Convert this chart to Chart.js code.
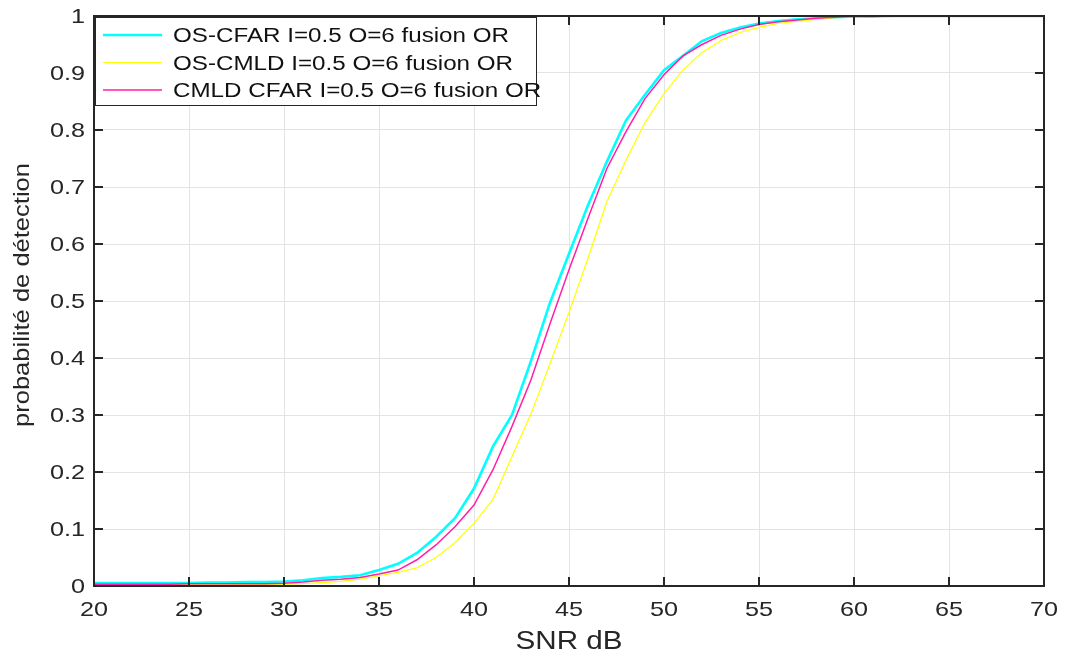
<!DOCTYPE html>
<html>
<head>
<meta charset="utf-8">
<script src="https://cdn.jsdelivr.net/npm/chart.js@4/dist/chart.umd.min.js"></script>
<style>
  html, body { margin: 0; padding: 0; background: #fff; }
  #wrap { width: 1070px; height: 656px; }
</style>
</head>
<body>
<div id="wrap"><canvas id="pd" width="1070" height="656"></canvas></div>
<script>
// SNR values (dB)
const snr = [20,21,22,23,24,25,26,27,28,29,30,31,32,33,34,35,36,37,38,39,40,41,42,43,44,45,
  46,47,48,49,50,51,52,53,54,55,56,57,58,59,60,61,62,63,64,65,66,67,68,69,70];

const osCfar = [0.005,0.005,0.005,0.005,0.005,0.005,0.006,0.006,0.007,0.007,0.008,0.010,0.014,0.016,0.019,0.028,
  0.039,0.058,0.086,0.119,0.171,0.245,0.300,0.395,0.497,0.583,0.668,0.745,0.817,0.862,0.905,0.930,0.956,0.970,
  0.980,0.987,0.991,0.994,0.996,0.998,0.999,0.999,1,1,1,1,1,1,1,1,1];

const osCmld = [0.001,0.001,0.001,0.002,0.002,0.002,0.002,0.002,0.003,0.003,0.003,0.004,0.006,0.008,0.012,0.018,
  0.024,0.032,0.050,0.076,0.110,0.152,0.227,0.302,0.390,0.480,0.575,0.675,0.747,0.813,0.864,0.905,0.936,0.957,
  0.971,0.980,0.987,0.991,0.994,0.997,0.998,0.999,0.999,1,1,1,1,1,1,1,1];

const cmldCfar = [0.003,0.003,0.003,0.003,0.003,0.004,0.004,0.004,0.004,0.004,0.005,0.007,0.010,0.012,0.015,0.021,
  0.028,0.046,0.072,0.104,0.142,0.204,0.280,0.362,0.460,0.555,0.645,0.733,0.797,0.855,0.897,0.930,0.950,0.966,
  0.977,0.985,0.990,0.993,0.996,0.998,0.999,0.999,1,1,1,1,1,1,1,1,1];

const seriesNames = ['OS-CFAR I=0.5 O=6 fusion OR', 'OS-CMLD I=0.5 O=6 fusion OR', 'CMLD CFAR I=0.5 O=6 fusion OR'];
const seriesColors = ['#00ffff', '#ffff00', '#ff1fa8'];
const seriesWidths = [2.6, 1.2, 1.5];

const xTicks = [20,25,30,35,40,45,50,55,60,65,70];
const yTicks = [0,0.1,0.2,0.3,0.4,0.5,0.6,0.7,0.8,0.9,1];
const xTitle = 'SNR dB';
const yTitle = 'probabilité de détection';

const ink = '#262626';
const fam = '"Liberation Sans", Arial, Helvetica, sans-serif';
const stretch = 1.2; // matlab text is a bit wider than Arial

function pts(vals) {
  return snr.map((s, i) => ({ x: s, y: vals[i] }));
}

// draws text stretched along its own direction
function wideText(ctx, txt, x, y, align, sx) {
  ctx.save();
  ctx.translate(x, y);
  ctx.scale(sx, 1);
  ctx.textAlign = align;
  ctx.fillText(txt, 0, 0);
  ctx.restore();
}

// MATLAB style box, inner ticks, labels and legend
const matlabFrame = {
  id: 'matlabFrame',
  afterDraw(chart) {
    const ctx = chart.ctx;
    const a = chart.chartArea;
    const xs = chart.scales.x, ys = chart.scales.y;
    ctx.save();
    ctx.strokeStyle = ink;
    ctx.lineWidth = 2;
    ctx.strokeRect(a.left, a.top, a.right - a.left, a.bottom - a.top);
    const tl = 9;
    ctx.beginPath();
    xTicks.forEach(v => {
      const px = xs.getPixelForValue(v);
      ctx.moveTo(px, a.bottom); ctx.lineTo(px, a.bottom - tl);
      ctx.moveTo(px, a.top); ctx.lineTo(px, a.top + tl);
    });
    yTicks.forEach(v => {
      const py = ys.getPixelForValue(v);
      ctx.moveTo(a.left, py); ctx.lineTo(a.left + tl, py);
      ctx.moveTo(a.right, py); ctx.lineTo(a.right - tl, py);
    });
    ctx.stroke();

    // tick labels
    ctx.fillStyle = ink;
    ctx.font = '21px ' + fam;
    ctx.textBaseline = 'middle';
    yTicks.forEach(v => {
      wideText(ctx, String(v), a.left - 9, ys.getPixelForValue(v) + 1.5, 'right', stretch);
    });
    xTicks.forEach(v => {
      wideText(ctx, String(v), xs.getPixelForValue(v), a.bottom + 24, 'center', stretch);
    });

    // axis titles
    ctx.font = '25px ' + fam;
    const tw = ctx.measureText(xTitle).width;
    wideText(ctx, xTitle, (a.left + a.right) / 2, 642, 'center', 107 / tw);
    ctx.font = '22px ' + fam;
    ctx.save();
    ctx.translate(23, 295);
    ctx.rotate(-Math.PI / 2);
    const yw = ctx.measureText(yTitle).width;
    wideText(ctx, yTitle, 0, 0, 'center', 264 / yw);
    ctx.restore();

    // legend
    const lx = 95, ly = 17, lw = 441, lh = 88;
    ctx.fillStyle = '#fff';
    ctx.fillRect(lx, ly, lw, lh);
    ctx.lineWidth = 1;
    ctx.strokeStyle = ink;
    ctx.strokeRect(lx + 0.5, ly + 0.5, lw, lh);
    ctx.font = '20px ' + fam;
    ctx.textBaseline = 'middle';
    const lsx = 336 / ctx.measureText(seriesNames[0]).width;
    seriesNames.forEach((name, i) => {
      const ry = 35 + i * 27.5;
      ctx.strokeStyle = seriesColors[i];
      ctx.lineWidth = seriesWidths[i];
      ctx.beginPath();
      ctx.moveTo(103, ry); ctx.lineTo(162, ry);
      ctx.stroke();
      ctx.fillStyle = '#111';
      wideText(ctx, name, 173, ry + 1.5, 'left', lsx);
    });
    ctx.restore();
  }
};

new Chart(document.getElementById('pd'), {
  type: 'line',
  data: {
    datasets: seriesNames.map((name, i) => ({
      label: name,
      data: pts([osCfar, osCmld, cmldCfar][i]),
      borderColor: seriesColors[i],
      backgroundColor: seriesColors[i],
      borderWidth: seriesWidths[i],
      pointRadius: 0,
      tension: 0,
      fill: false,
      order: 3 - i
    }))
  },
  options: {
    responsive: false,
    animation: false,
    layout: { padding: { top: 16, right: 26, left: 0, bottom: 0 } },
    plugins: { legend: { display: false }, tooltip: { enabled: false } },
    scales: {
      x: {
        type: 'linear', min: 20, max: 70,
        afterBuildTicks: s => { s.ticks = xTicks.map(v => ({ value: v })); },
        afterFit: s => { s.height = 70; },
        grid: { color: '#e3e3e3', lineWidth: 1, drawTicks: false },
        border: { display: false },
        ticks: { display: false }
      },
      y: {
        type: 'linear', min: 0, max: 1,
        afterBuildTicks: s => { s.ticks = yTicks.map(v => ({ value: v })); },
        afterFit: s => { s.width = 94; },
        grid: { color: '#e3e3e3', lineWidth: 1, drawTicks: false },
        border: { display: false },
        ticks: { display: false }
      }
    }
  },
  plugins: [matlabFrame]
});
</script>
</body>
</html>
